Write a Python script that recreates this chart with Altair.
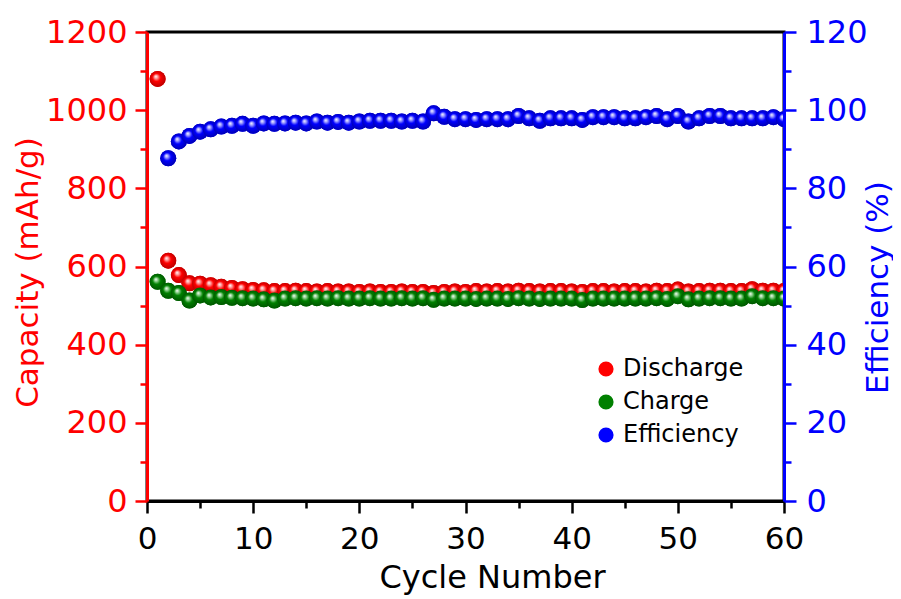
import altair as alt
import pandas as pd

cycles = list(range(1, 61))
discharge = [1080, 615, 578, 557, 556, 552, 548, 545, 542, 540,
             539, 537, 537, 538, 537, 536, 537, 536, 536, 535,
             536, 535, 535, 536, 535, 535, 532, 535, 536, 535,
             537, 536, 537, 536, 538, 537, 536, 537, 537, 536,
             535, 537, 537, 536, 537, 537, 536, 538, 537, 541,
             536, 537, 538, 538, 537, 537, 542, 538, 538, 537]
charge = [561, 538, 532, 513, 526, 521, 522, 520, 519, 518,
          516, 513, 518, 519, 518, 519, 518, 519, 518, 518,
          519, 518, 518, 519, 518, 519, 515, 518, 518, 518,
          517, 518, 518, 517, 519, 518, 517, 518, 518, 518,
          514, 518, 518, 518, 518, 518, 518, 519, 517, 524,
          516, 518, 519, 519, 518, 518, 524, 519, 519, 518]
eff_cycles = list(range(2, 61))
efficiency = [87.7, 92.0, 93.4, 94.5, 95.1, 95.8, 96.0, 96.5, 96.0,
              96.6, 96.5, 96.6, 96.8, 96.6, 97.1, 96.8, 97.0, 96.8, 97.1,
              97.3, 97.3, 97.3, 97.1, 97.3, 97.1, 99.2, 98.3, 97.7, 97.7,
              97.5, 97.7, 97.7, 97.7, 98.5, 97.9, 97.3, 97.9, 97.9, 97.9,
              97.5, 98.2, 98.2, 98.2, 97.9, 97.9, 98.2, 98.5, 97.7, 98.5,
              97.1, 97.9, 98.5, 98.5, 97.9, 97.9, 97.9, 97.9, 98.2, 97.7]

series_names = ["Discharge", "Charge", "Efficiency"]
series_colors = ["#FF0000", "#008000", "#0000FF"]

cap_df = pd.DataFrame({
    "cycle": cycles + cycles,
    "value": discharge + charge,
    "series": ["Discharge"] * len(cycles) + ["Charge"] * len(cycles),
})
eff_df = pd.DataFrame({
    "cycle": eff_cycles,
    "value": efficiency,
    "series": ["Efficiency"] * len(eff_cycles),
})

FONT = "DejaVu Sans"
W, H = 637, 469


def sphere(base, light, dark):
    return {
        "gradient": "radial",
        "x1": 0.38, "y1": 0.34, "r1": 0,
        "x2": 0.5, "y2": 0.5, "r2": 0.55,
        "stops": [
            {"offset": 0.0, "color": "#FFFFFF"},
            {"offset": 0.2, "color": light},
            {"offset": 0.45, "color": base},
            {"offset": 1.0, "color": dark},
        ],
    }


x_axis = alt.Axis(
    values=list(range(0, 61, 5)),
    labelExpr="datum.value % 10 === 0 ? datum.label : ''",
    format="d",
    tickSize={"condition": {"test": "datum.value % 10 === 0", "value": 12}, "value": 7},
    tickColor="black", tickWidth=2.5,
    domainColor="black", domainWidth=3,
    labelFont=FONT, labelFontSize=31, labelColor="black", labelPadding=11,
    labelFlush=False, labelOverlap=False,
    title="Cycle Number", titleFont=FONT, titleFontSize=32,
    titleFontWeight="normal", titleColor="black",
    titleX=345, titleY=86, titleBaseline="alphabetic", titleAlign="center",
    grid=False, zindex=1,
)
left_axis = alt.Axis(
    orient="left",
    values=list(range(0, 1201, 100)),
    labelExpr="datum.value % 200 === 0 ? datum.label : ''",
    format="d",
    tickSize={"condition": {"test": "datum.value % 200 === 0", "value": 12}, "value": 7},
    tickColor="#FF0000", tickWidth=2.5,
    domainColor="#FF0000", domainWidth=3,
    labelFont=FONT, labelFontSize=32, labelColor="#FF0000", labelPadding=8,
    labelOverlap=False, labelFlush=False,
    title="Capacity (mAh/g)", titleFont=FONT, titleFontSize=31,
    titleFontWeight="normal", titleColor="#FF0000",
    titleAngle=270, titleX=-110, titleY=240,
    titleBaseline="alphabetic", titleAlign="center",
    grid=False, zindex=1,
)
right_axis = alt.Axis(
    orient="right",
    values=list(range(0, 121, 10)),
    labelExpr="datum.value % 20 === 0 ? datum.label : ''",
    format="d",
    tickSize={"condition": {"test": "datum.value % 20 === 0", "value": 12}, "value": 7},
    tickColor="#0000FF", tickWidth=2.5,
    domainColor="#0000FF", domainWidth=3,
    labelFont=FONT, labelFontSize=32, labelColor="#0000FF", labelPadding=10,
    labelOverlap=False, labelFlush=False,
    title="Efficiency (%)", titleFont=FONT, titleFontSize=31,
    titleFontWeight="normal", titleColor="#0000FF",
    titleAngle=270, titleX=103, titleY=255,
    titleBaseline="alphabetic", titleAlign="center",
    grid=False, zindex=1,
)

xenc = alt.X("cycle:Q", scale=alt.Scale(domain=[0, 60], nice=False, zero=False), axis=x_axis)
y_cap = alt.Y("value:Q", scale=alt.Scale(domain=[0, 1200], nice=False), axis=left_axis)
y_eff = alt.Y("value:Q", scale=alt.Scale(domain=[0, 120], nice=False), axis=right_axis)

color_enc = alt.Color(
    "series:N",
    scale=alt.Scale(domain=series_names, range=series_colors),
    legend=alt.Legend(
        orient="none", legendX=447, legendY=325, title=None,
        labelFont=FONT, labelFontSize=24, labelColor="black",
        symbolSize=230, symbolType="circle", symbolStrokeWidth=0,
        rowPadding=9, labelOffset=5, padding=0,
    ),
)

SIZE = 256

cap_solid = alt.Chart(cap_df).mark_point(filled=True, size=SIZE, opacity=1, clip=True).encode(
    x=xenc, y=y_cap, color=color_enc)
red_ball = alt.Chart(cap_df).transform_filter("datum.series === 'Discharge'").mark_point(
    filled=True, size=SIZE, opacity=1, clip=True, shape="circle",
    fill=sphere("#FF0000", "#FF9A9A", "#B00000")).encode(x=xenc, y=y_cap)
green_ball = alt.Chart(cap_df).transform_filter("datum.series === 'Charge'").mark_point(
    filled=True, size=SIZE, opacity=1, clip=True, shape="circle",
    fill=sphere("#008000", "#8FD08F", "#005000")).encode(x=xenc, y=y_cap)

eff_solid = alt.Chart(eff_df).mark_point(filled=True, size=SIZE, opacity=1, clip=True).encode(
    x=xenc, y=y_eff, color=color_enc)
blue_ball = alt.Chart(eff_df).mark_point(
    filled=True, size=SIZE, opacity=1, clip=True, shape="circle",
    fill=sphere("#0000FF", "#9A9AFF", "#0000A8")).encode(x=xenc, y=y_eff)

left = alt.layer(cap_solid, red_ball, green_ball)
right = alt.layer(eff_solid, blue_ball)

chart = alt.layer(left, right).resolve_scale(y="independent").properties(
    width=W, height=H,
    padding={"left": 139, "top": 24, "right": 109, "bottom": 95},
    autosize=alt.AutoSizeParams(type="none"),
    background="white",
).configure_view(stroke="black", strokeWidth=3)

chart.save("out.html", embed_options={"renderer": "svg", "actions": False})
